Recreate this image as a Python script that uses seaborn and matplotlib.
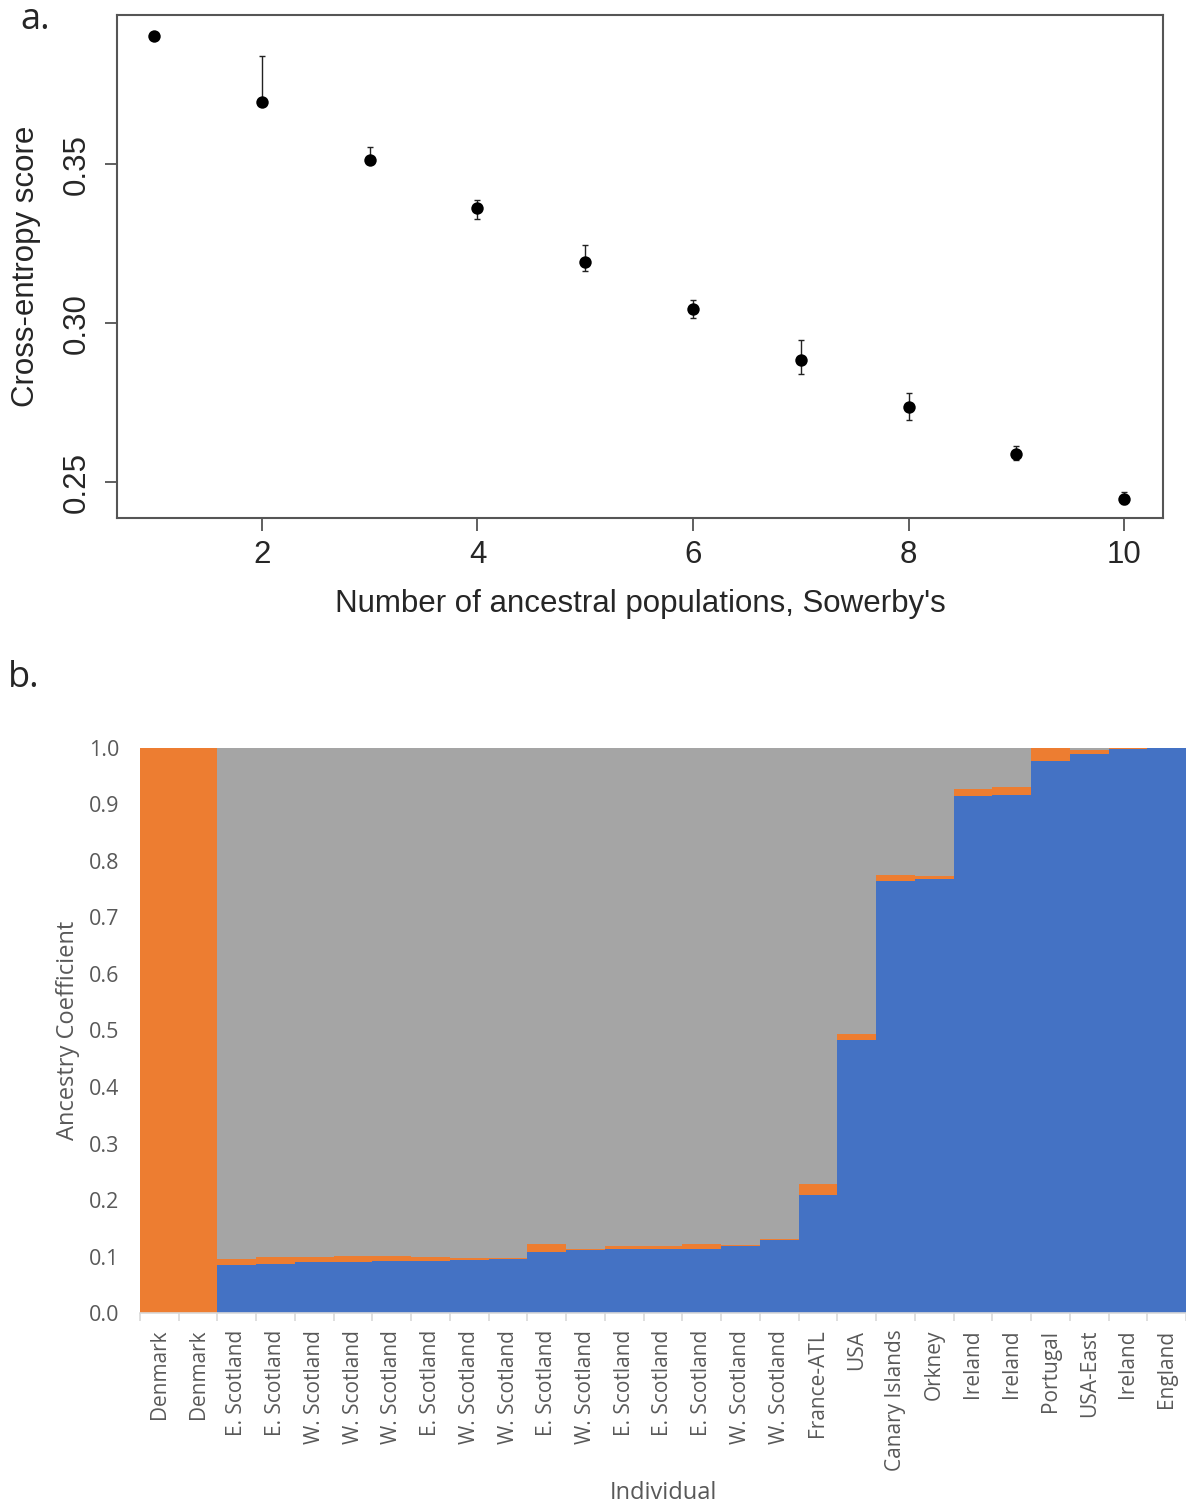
import numpy as np
import pandas as pd
import matplotlib
matplotlib.use("Agg")
import matplotlib.pyplot as plt
import seaborn as sns

# panel a: cross-entropy score per number of ancestral populations (K)
k_values = [1, 2, 3, 4, 5, 6, 7, 8, 9, 10]
ce_mean = [0.3903, 0.3696, 0.3512, 0.3361, 0.3191, 0.3045, 0.2885, 0.2737, 0.2588, 0.2447]
ce_low = [0.3903, 0.3696, 0.3506, 0.3327, 0.3164, 0.3016, 0.2840, 0.2694, 0.2569, 0.2432]
ce_high = [0.3903, 0.3841, 0.3554, 0.3386, 0.3244, 0.3072, 0.2947, 0.2781, 0.2613, 0.2469]

# panel b: ancestry coefficients per individual (K = 3)
individuals = ["Denmark", "Denmark", "E. Scotland", "E. Scotland", "W. Scotland",
               "W. Scotland", "W. Scotland", "E. Scotland", "W. Scotland", "W. Scotland",
               "E. Scotland", "W. Scotland", "E. Scotland", "E. Scotland", "E. Scotland",
               "W. Scotland", "W. Scotland", "France-ATL", "USA", "Canary Islands",
               "Orkney", "Ireland", "Ireland", "Portugal", "USA-East", "Ireland", "England"]
anc_blue = [0.0, 0.0, 0.085, 0.087, 0.090, 0.090, 0.0915, 0.0915, 0.093, 0.096,
            0.1085, 0.112, 0.114, 0.114, 0.114, 0.119, 0.130, 0.208, 0.484, 0.7654,
            0.768, 0.9146, 0.9166, 0.9763, 0.9898, 0.9986, 0.9992]
anc_orange = [1.0, 1.0, 0.011, 0.012, 0.009, 0.011, 0.0095, 0.008, 0.004, 0.001,
              0.0145, 0.001, 0.005, 0.004, 0.008, 0.0005, 0.0005, 0.021, 0.0096, 0.0096,
              0.005, 0.012, 0.0144, 0.0237, 0.006, 0.0008, 0.0004]

BLUE = "#4472C4"
ORANGE = "#ED7D31"
GRAY = "#A5A5A5"
TXT = "#595959"
XL_FONT = ["Open Sans", "DejaVu Sans"]

sns.set_style("white")
plt.rcParams["font.family"] = ["Liberation Sans", "DejaVu Sans"]

fig = plt.figure(figsize=(11.86, 15.08), dpi=100)

# ---------------- panel a ----------------
ax1 = fig.add_axes([0.0987, 0.6565, 0.8820, 0.3336])
df_a = pd.DataFrame({"K": k_values, "score": ce_mean, "low": ce_low, "high": ce_high})
ax1.errorbar(df_a["K"], df_a["score"],
             yerr=[df_a["score"] - df_a["low"], df_a["high"] - df_a["score"]],
             fmt="none", ecolor="#222222", elinewidth=1.0, capsize=2.5, capthick=1.0)
sns.scatterplot(data=df_a, x="K", y="score", color="black", s=80,
                edgecolor="black", linewidth=0, ax=ax1, zorder=3)
ax1.set_xlim(0.657, 10.36)
ax1.set_ylim(0.2387, 0.3969)
ax1.set_xticks([2, 4, 6, 8, 10])
ax1.set_yticks([0.25, 0.30, 0.35])
ax1.set_yticklabels(["0.25", "0.30", "0.35"])
ax1.tick_params(axis="both", which="major", direction="out", length=9, width=1.2,
                color="#444444", labelsize=22.5, pad=7, left=True, bottom=True)
ax1.tick_params(axis="y", labelrotation=90, pad=9)
for lab in ax1.get_yticklabels():
    lab.set_va("center")
for sp in ax1.spines.values():
    sp.set_visible(True)
    sp.set_color("#555555")
    sp.set_linewidth(1.5)
ax1.set_xlabel("Number of ancestral populations, Sowerby's", fontsize=22.5)
ax1.set_ylabel("Cross-entropy score", fontsize=22.5)
ax1.xaxis.set_label_coords(0.5, -0.142)
ax1.yaxis.set_label_coords(-0.073, 0.5)

# ---------------- panel b ----------------
ax2 = fig.add_axes([0.1180, 0.1293, 0.8820, 0.3747])
pos = list(range(len(individuals)))
blue = np.array(anc_blue)
orange = np.array(anc_orange)
gray = 1.0 - blue - orange
df_b = pd.DataFrame({"pos": pos, "blue": blue, "blue_orange": blue + orange,
                     "total": blue + orange + gray})
# stacked by overdrawing cumulative heights
sns.barplot(data=df_b, x="pos", y="total", color=GRAY, saturation=1, width=1.0,
            linewidth=0, errorbar=None, ax=ax2)
sns.barplot(data=df_b, x="pos", y="blue_orange", color=ORANGE, saturation=1, width=1.0,
            linewidth=0, errorbar=None, ax=ax2)
sns.barplot(data=df_b, x="pos", y="blue", color=BLUE, saturation=1, width=1.0,
            linewidth=0, errorbar=None, ax=ax2)
ax2.set_xlim(-0.5, len(individuals) - 0.5)
ax2.set_ylim(0, 1.0)
ax2.set_yticks(np.arange(0, 1.01, 0.1))
ax2.set_yticklabels([f"{v:.1f}" for v in np.arange(0, 1.01, 0.1)],
                    family=XL_FONT, color=TXT, fontsize=15.5)
ax2.set_xticks(pos)
ax2.set_xticklabels(individuals, rotation=90, family=XL_FONT, color=TXT, fontsize=15)
ax2.set_xticks(np.arange(-0.5, len(individuals), 1.0), minor=True)
ax2.tick_params(axis="x", which="major", length=0, pad=12)
ax2.tick_params(axis="x", which="minor", length=6, width=1.2, color="#D9D9D9",
                direction="out", bottom=True)
ax2.tick_params(axis="y", which="major", length=0, pad=15)
for name, sp in ax2.spines.items():
    sp.set_visible(name == "bottom")
ax2.spines["bottom"].set_color("#D9D9D9")
ax2.spines["bottom"].set_linewidth(1.2)
ax2.set_xlabel("Individual", fontsize=17, color=TXT, family=XL_FONT)
ax2.set_ylabel("Ancestry Coefficient", fontsize=17, color=TXT, family=XL_FONT)
ax2.xaxis.set_label_coords(0.5, -0.297)
ax2.yaxis.set_label_coords(-0.057, 0.5)

# panel letters
fig.text(20 / 1186, 1 - 20 / 1508, "a.", fontsize=26, family=XL_FONT,
         va="center", ha="left")
fig.text(8 / 1186, 1 - 678 / 1508, "b.", fontsize=26, family=XL_FONT,
         va="center", ha="left")

fig.savefig("out.png", dpi=100)
